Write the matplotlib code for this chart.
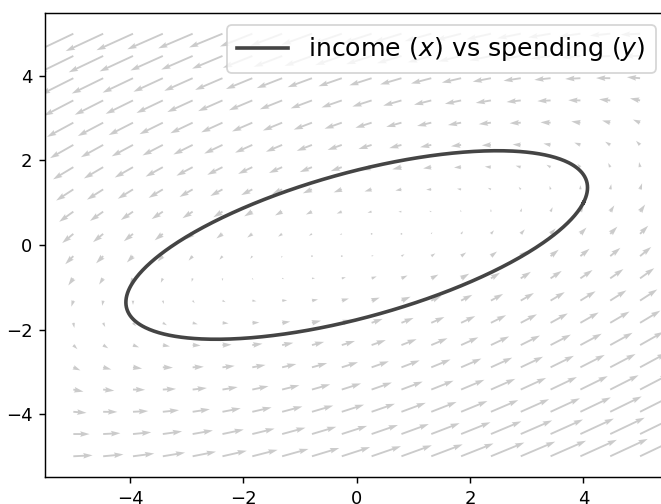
import numpy as np
import matplotlib
matplotlib.use("Agg")
import matplotlib.pyplot as plt

# Linear model: d(income)/dt = a*x + b*y, d(spending)/dt = c*x + d*y
coef_a, coef_b = 1.0, -3.0
coef_c, coef_d = 0.9, -1.0
start_state = [4.0, 1.0]

grid_min, grid_max, grid_n = -5.0, 5.0, 20

M = np.array([[coef_a, coef_b], [coef_c, coef_d]])

# vector field on the grid
gx = np.linspace(grid_min, grid_max, grid_n)
gy = np.linspace(grid_min, grid_max, grid_n)
X, Y = np.meshgrid(gx, gy)
U = M[0, 0] * X + M[0, 1] * Y
V = M[1, 0] * X + M[1, 1] * Y

# closed orbit through the starting state (trace-free system -> rotation)
omega = np.sqrt(np.linalg.det(M))
t = np.linspace(0, 2 * np.pi / omega, 600)
x0 = np.array(start_state)
mx0 = M @ x0
traj_x = np.cos(omega * t) * x0[0] + np.sin(omega * t) / omega * mx0[0]
traj_y = np.cos(omega * t) * x0[1] + np.sin(omega * t) / omega * mx0[1]

dpi = 130
fig = plt.figure(figsize=(661 / dpi, 504 / dpi), dpi=dpi)
ax = fig.add_axes([45 / 661, 26.6 / 504, 623.4 / 661, 464.8 / 504])

ax.quiver(X, Y, U, V, color="#cbcbcb")
ax.plot(traj_x, traj_y, color="#444444", lw=2,
        label="income ($x$) vs spending ($y$)")

ax.set_xlim(-5.5, 5.5)
ax.set_ylim(-5.5, 5.5)
ax.set_xticks([-4, -2, 0, 2, 4])
ax.set_yticks([-4, -2, 0, 2, 4])
ax.legend(loc="upper right", fontsize=14)

fig.savefig("out.png", dpi=dpi)
